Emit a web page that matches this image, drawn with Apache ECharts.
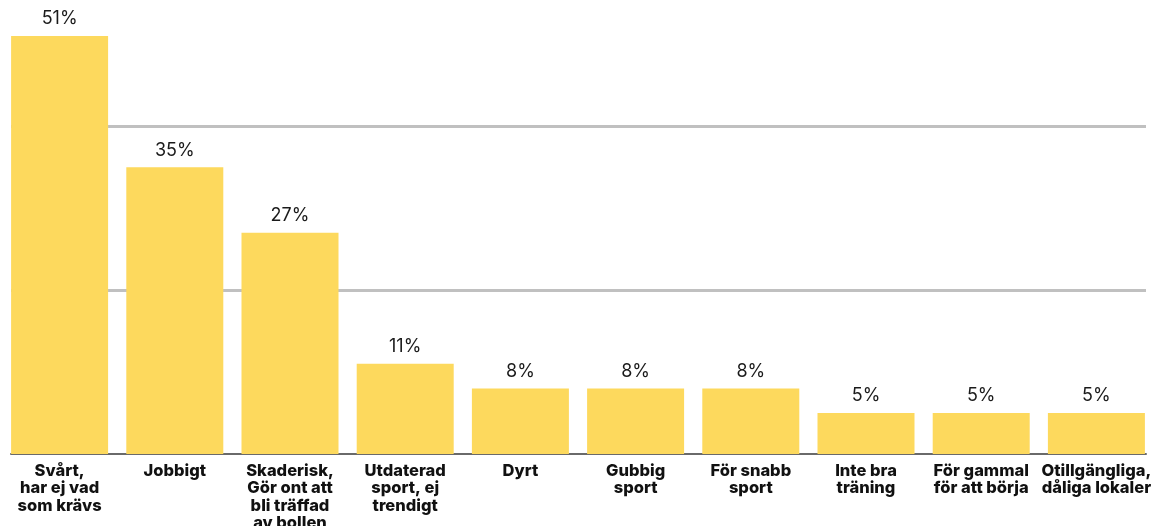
<!DOCTYPE html>
<html>
<head>
<meta charset="utf-8">
<script src="https://cdn.jsdelivr.net/npm/echarts@6/dist/echarts.min.js"></script>
<style>
html,body{margin:0;padding:0;background:#fff;}
#c{width:1167px;height:526px;}
</style>
</head>
<body>
<div id="c"></div>
<script>
const categories = [
  "Svårt,\nhar ej vad\nsom krävs",
  "Jobbigt",
  "Skaderisk,\nGör ont att\nbli träffad\nav bollen",
  "Utdaterad\nsport, ej\ntrendigt",
  "Dyrt",
  "Gubbig\nsport",
  "För snabb\nsport",
  "Inte bra\nträning",
  "För gammal\nför att börja",
  "Otillgängliga,\ndåliga lokaler"
];
const values = [51, 35, 27, 11, 8, 8, 8, 5, 5, 5];
const yMin = 0, yMax = 55.4, yInterval = 20;

const chart = echarts.init(document.getElementById('c'), null, {renderer: 'canvas'});
const font = 'Inter, "Noto Sans", sans-serif';
chart.setOption({
  animation: false,
  backgroundColor: '#fff',
  grid: [
    {left: 2, right: 13, top: 0, bottom: 72, containLabel: false, outerBoundsMode: 'none'},
    {left: 11, right: 21, top: 0, bottom: 72, containLabel: false, outerBoundsMode: 'none'}
  ],
  xAxis: [
    {
      type: 'category', gridIndex: 0, data: categories,
      axisLine: {show: false}, axisTick: {show: false},
      axisLabel: {interval: 0, color: '#111', fontFamily: font, fontWeight: 800, fontSize: 16.5, lineHeight: 17.5, margin: 8, hideOverlap: false}
    },
    {
      type: 'category', gridIndex: 1, data: categories,
      axisLine: {show: true, lineStyle: {color: '#6a6a6a', width: 2}},
      axisTick: {show: false}, axisLabel: {show: false}
    }
  ],
  yAxis: [
    {type: 'value', gridIndex: 0, min: yMin, max: yMax, interval: yInterval,
     axisLabel: {show: false}, axisLine: {show: false}, axisTick: {show: false}, splitLine: {show: false}},
    {type: 'value', gridIndex: 1, min: yMin, max: yMax, interval: yInterval,
     axisLabel: {show: false}, axisLine: {show: false}, axisTick: {show: false},
     splitLine: {show: true, showMaxLine: false, showMinLine: false, lineStyle: {color: '#c0c0c0', width: 3}}}
  ],
  series: [
    {
      type: 'bar', xAxisIndex: 0, yAxisIndex: 0, data: values, barWidth: 97,
      itemStyle: {color: '#FDD95D'},
      z: 5,
      label: {show: true, position: 'top', distance: 8, formatter: '{c}%', color: '#1a1a1a', fontFamily: font, fontSize: 18, fontWeight: 400}
    },
    {
      type: 'line', xAxisIndex: 1, yAxisIndex: 1, data: [], silent: true
    }
  ]
});
</script>
</body>
</html>
